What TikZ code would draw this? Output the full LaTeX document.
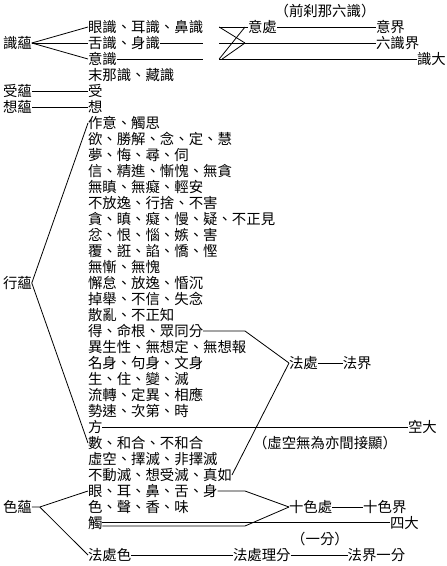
\documentclass[tikz,border=0pt]{standalone}
\usepackage{fontspec}
\newfontfamily\cjk{Noto Sans CJK TC}
\usepackage{tikz}
\usetikzlibrary{positioning,calc}

\begin{document}
\begin{tikzpicture}[
  x=1pt, y=1pt,
  font=\cjk\fontsize{14.4}{16}\selectfont,
  item/.style={inner sep=0pt, outer sep=0pt, text height=12pt, text depth=2pt,
               minimum height=16pt, anchor=west},
  nextrow/.style={item, below=0pt of #1.south west, anchor=north west},
  note/.style={inner sep=0pt, text height=12pt, text depth=2pt},
  link/.style={draw=black, line width=0.8pt}
]
\useasboundingbox (0,0) rectangle (447,-566);

% Skandhas
\node[item] (shiyun) at (3,-43) {識蘊};
\node[item] (shouyun) at (3,-91) {受蘊};
\node[item] (xiangyun) at (3,-107) {想蘊};
\node[item] (xingyun) at (3,-283) {行蘊};
\node[item] (seyun) at (3,-507) {色蘊};

% Dharma column
\node[item] (r0) at (88,-27) {眼識、耳識、鼻識};
\node[nextrow=r0] (r1) {舌識、身識};
\node[nextrow=r1] (r2) {意識};
\node[nextrow=r2] (r3) {末那識、藏識};
\node[nextrow=r3] (r4) {受};
\node[nextrow=r4] (r5) {想};
\node[nextrow=r5] (r6) {作意、觸思};
\node[nextrow=r6] (r7) {欲、勝解、念、定、慧};
\node[nextrow=r7] (r8) {夢、悔、尋、伺};
\node[nextrow=r8] (r9) {信、精進、慚愧、無貪};
\node[nextrow=r9] (r10) {無瞋、無癡、輕安};
\node[nextrow=r10] (r11) {不放逸、行捨、不害};
\node[nextrow=r11] (r12) {貪、瞋、癡、慢、疑、不正見};
\node[nextrow=r12] (r13) {忿、恨、惱、嫉、害};
\node[nextrow=r13] (r14) {覆、誑、諂、憍、慳};
\node[nextrow=r14] (r15) {無慚、無愧};
\node[nextrow=r15] (r16) {懈怠、放逸、惛沉};
\node[nextrow=r16] (r17) {掉舉、不信、失念};
\node[nextrow=r17] (r18) {散亂、不正知};
\node[nextrow=r18] (r19) {得、命根、眾同分};
\node[nextrow=r19] (r20) {異生性、無想定、無想報};
\node[nextrow=r20] (r21) {名身、句身、文身};
\node[nextrow=r21] (r22) {生、住、變、滅};
\node[nextrow=r22] (r23) {流轉、定異、相應};
\node[nextrow=r23] (r24) {勢速、次第、時};
\node[nextrow=r24] (r25) {方};
\node[nextrow=r25] (r26) {數、和合、不和合};
\node[nextrow=r26] (r27) {虛空、擇滅、非擇滅};
\node[nextrow=r27] (r28) {不動滅、想受滅、真如};
\node[nextrow=r28] (r29) {眼、耳、鼻、舌、身};
\node[nextrow=r29] (r30) {色、聲、香、味};
\node[nextrow=r30] (r31) {觸};
\node[nextrow=r31, yshift=-16pt] (r33) {法處色};

% Bases, elements, great elements
\node[note] (qian) at (325,-11) {（前刹那六識）};
\node[item] (yichu) at (248,-27) {意處};
\node[item] (yijie) at (376,-27) {意界};
\node[item] (liushijie) at (376,-43) {六識界};
\node[item] (shida) at (417,-59) {識大};
\node[item] (fachu) at (289,-363) {法處};
\node[item, right=25pt of fachu] (fajie) {法界};
\node[item] (kongda) at (408,-427) {空大};
\node[note] (xukong) at (325,-443) {（虛空無為亦間接顯）};
\node[item] (shisechu) at (289,-507) {十色處};
\node[item, right=31pt of shisechu] (shisejie) {十色界};
\node[item] (sida) at (390,-523) {四大};
\node[note] (yifen) at (320,-539) {（一分）};
\node[item] (fachuli) at (233,-555) {法處理分};
\node[item, right=57pt of fachuli] (fajieyifen) {法界一分};

% Consciousness aggregate
\draw[link] (shiyun.east) -- (r0.west);
\draw[link] (shiyun.east) -- (r1.west);
\draw[link] (shiyun.east) -- (r2.west);
\coordinate (e1) at (r0.east |- r1.east);
\coordinate (e2) at (r0.east |- r2.east);
\draw[link] (r1.east) -- (e1);
\draw[link] (r2.east) -- (e2);

% Crossing into base / element
\coordinate (l1) at ($(r0.east)+(16,0)$);
\coordinate (l2) at (l1 |- r1.east);
\coordinate (l3) at (l1 |- r2.east);
\coordinate (m2) at ($(yichu.west |- r1.east)+(-3,0)$);
\coordinate (m1) at ($(yichu.west)+(-3,0)$);
\draw[link] (l1) -- (yichu.west);
\draw[link] (l1) -- (m2);
\draw[link] (m1) -- (l3);
\draw[link] (m2) -- ($(l3)+(3,0)$);
\draw[link] (l2) -- (liushijie.west);
\draw[link] (l3) -- (shida.west);
\draw[link] (yichu.east) -- (yijie.west);

% Feeling, perception, formations
\draw[link] (shouyun.east) -- (r4.west);
\draw[link] (xiangyun.east) -- (r5.west);
\draw[link] (xingyun.east) -- (r6.west);
\draw[link] (xingyun.east) -- (r26.west);
\coordinate (b19) at (m1 |- r19.east);
\draw[link] (r19.east) -- (b19) -- (fachu.west);
\draw[link] (r28.east) -- (fachu.west);
\draw[link] (fachu.east) -- (fajie.west);
\draw[link] (r25.east) -- (kongda.west);

% Form aggregate
\coordinate (b29) at (m1 |- r29.east);
\draw[link] (r29.east) -- (b29) -- (shisechu.west);
\draw[link] (shisechu.east) -- (shisejie.west);
\draw[link] ([yshift=1pt]r31.east) -- ([yshift=1pt]sida.west);
\coordinate (b31) at ($(m1 |- r31.east)+(0,-3)$);
\draw[link] ([yshift=-3pt]r31.east) -- (b31) -- (shisechu.west);
\coordinate[right=8pt of seyun] (sefork);
\draw[link] (seyun.east) -- (sefork) -- (r29.west);
\draw[link] (sefork) -- (r33.west);
\draw[link] (r33.east) -- (fachuli.west);
\draw[link] (fachuli.east) -- (fajieyifen.west);

\end{tikzpicture}
\end{document}
